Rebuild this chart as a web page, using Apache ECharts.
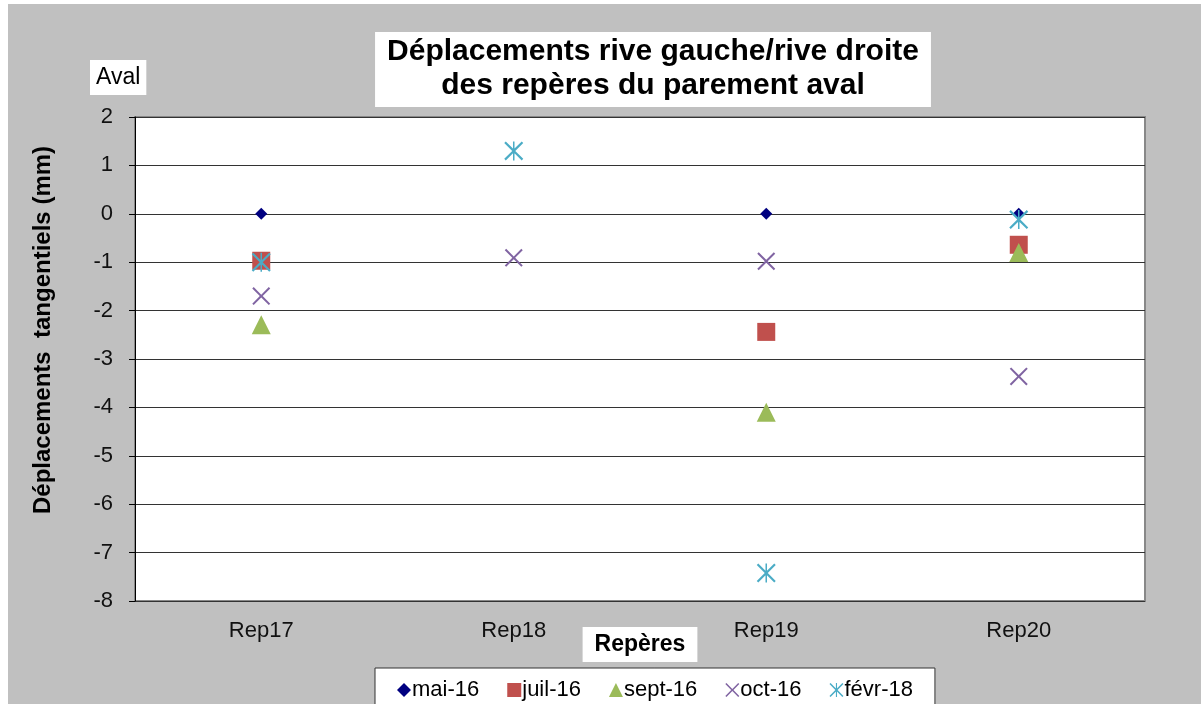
<!DOCTYPE html>
<html>
<head>
<meta charset="utf-8">
<script src="https://cdn.jsdelivr.net/npm/echarts@6/dist/echarts.min.js"></script>
<style>
  html, body { margin: 0; padding: 0; background: #fff; }
  #wrap { position: relative; width: 1201px; height: 704px; background: #fff; overflow: hidden; }
  #bg { position: absolute; left: 8px; top: 4px; right: 0; bottom: 0; background: #c0c0c0; }
  #chart { position: absolute; left: 0; top: 0; width: 1201px; height: 704px; }
</style>
</head>
<body>
<div id="wrap">
  <div id="bg"></div>
  <div id="chart"></div>
</div>
<script>
  // catégories (repères)
  var reperes = ['Rep17', 'Rep18', 'Rep19', 'Rep20']
  // déplacements (mm) par campagne
  var mai16 = [0, null, 0, 0]
  var juil16 = [-0.97, null, -2.44, -0.64]
  var sept16 = [-2.29, null, -4.1, -0.8]
  var oct16 = [-1.7, -0.91, -0.98, -3.36]
  var fevr18 = [-1.0, 1.3, -7.42, -0.12]
  var yTicks = { min: -8, max: 2, interval: 1 }

  var crossPath = 'path://M8,0 L50,42 L92,0 L100,8 L58,50 L100,92 L92,100 L50,58 L8,100 L0,92 L42,50 L0,8 Z'
  var starPath = 'path://M8,0 L50,42 L92,0 L100,8 L58,50 L100,92 L92,100 L50,58 L8,100 L0,92 L42,50 L0,8 Z M46,0 L54,0 L54,100 L46,100 Z'

  var chart = echarts.init(document.getElementById('chart'))

  function serie(name, data, symbol, size, color) {
    return {
      name: name,
      type: 'scatter',
      data: data,
      symbol: symbol,
      symbolSize: size,
      itemStyle: { color: color, opacity: 1 },
      emphasis: { disabled: true }
    }
  }

  chart.setOption({
    backgroundColor: 'transparent',
    animation: false,
    textStyle: { fontFamily: 'Liberation Sans, Arial, sans-serif' },
    title: [
      {
        text: 'Déplacements rive gauche/rive droite\ndes repères du parement aval',
        left: 641,
        top: 32,
        textAlign: 'center',
        padding: [3, 12, 4, 12],
        backgroundColor: '#fff',
        textStyle: {
          fontSize: 30,
          fontWeight: 'bold',
          color: '#000',
          lineHeight: 34,
          fontFamily: 'Liberation Sans, Arial, sans-serif'
        }
      },
      {
        text: 'Aval',
        left: 90,
        top: 60,
        padding: [6, 6, 6, 6],
        backgroundColor: '#fff',
        textStyle: {
          fontSize: 23,
          fontWeight: 'normal',
          color: '#000',
          lineHeight: 23,
          fontFamily: 'Liberation Sans, Arial, sans-serif'
        }
      }
    ],
    legend: {
      left: 375,
      top: 668,
      padding: [11, 22, 12, 22],
      backgroundColor: '#fff',
      borderColor: '#333',
      borderWidth: 1,
      itemWidth: 14,
      itemHeight: 14,
      itemGap: 28,
      textStyle: { fontSize: 22, color: '#000', padding: [0, 0, 0, -4] },
      data: ['mai-16', 'juil-16', 'sept-16', 'oct-16', 'févr-18']
    },
    grid: {
      left: 135,
      right: 56,
      top: 117,
      bottom: 103,
      show: true,
      backgroundColor: '#fff',
      borderColor: '#888',
      borderWidth: 2
    },
    xAxis: {
      type: 'category',
      data: reperes,
      boundaryGap: true,
      axisLine: { show: false },
      axisTick: { show: false },
      axisLabel: { fontSize: 22, color: '#111', margin: 19 },
      name: 'Repères',
      nameLocation: 'middle',
      nameGap: 26,
      nameMoveOverlap: false,
      nameTextStyle: {
        fontSize: 23,
        fontWeight: 'bold',
        color: '#000',
        backgroundColor: '#fff',
        padding: [6, 12, 6, 12]
      },
      splitLine: { show: false }
    },
    yAxis: {
      type: 'value',
      min: yTicks.min,
      max: yTicks.max,
      interval: yTicks.interval,
      axisLine: { show: true, lineStyle: { color: '#000', width: 1 } },
      axisTick: { show: true, length: 6, lineStyle: { color: '#000' } },
      axisLabel: { fontSize: 22, color: '#111', margin: 22 },
      splitLine: { show: true, lineStyle: { color: '#333', width: 1 } },
      name: 'Déplacements  tangentiels (mm)',
      nameLocation: 'middle',
      nameGap: 80,
      nameMoveOverlap: false,
      nameTextStyle: {
        fontSize: 24,
        fontWeight: 'bold',
        color: '#000',
        padding: [0, 0, 0, 58]
      }
    },
    series: [
      serie('mai-16', mai16, 'diamond', 12, '#000080'),
      serie('juil-16', juil16, 'rect', 18, '#c0504d'),
      serie('sept-16', sept16, 'triangle', 19, '#9bbb59'),
      serie('oct-16', oct16, crossPath, 18, '#8064a2'),
      serie('févr-18', fevr18, starPath, 19, '#4bacc6')
    ]
  })
</script>
</body>
</html>
